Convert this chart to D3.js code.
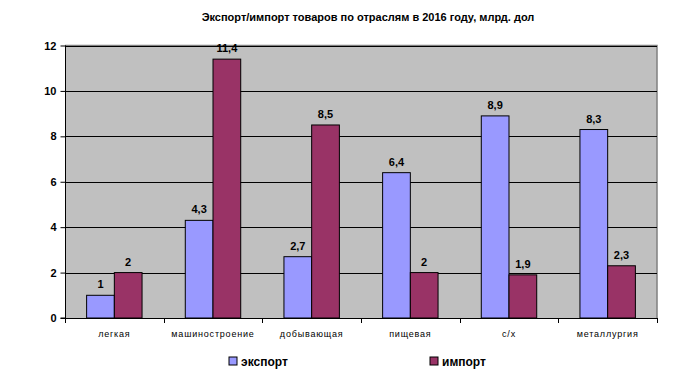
<!DOCTYPE html>
<html><head><meta charset="utf-8">
<script src="https://cdn.jsdelivr.net/npm/d3@7"></script>
<style>body{margin:0;background:#fff}svg{display:block;font-family:"Liberation Sans",Arial,sans-serif}</style>
</head><body><svg id="c" width="686" height="384"></svg>
<script>
const categories = ["легкая","машиностроение","добывающая","пищевая","с/х","металлургия"];
const exportValues = [1,4.3,2.7,6.4,8.9,8.3];
const importValues = [2,11.4,8.5,2,1.9,2.3];
const seriesNames = ["экспорт","импорт"];
const yTicks = [0,2,4,6,8,10,12];
const colors = ["#9999FF","#993366"];

const svg = d3.select("#c");
const L=65,R=657,T=45.5,B=318;
const x = d3.scaleBand().domain(categories).range([L,R]).paddingInner(0).paddingOuter(0);
const y = d3.scaleLinear().domain([0,12]).range([B,T]);
const bw = x.bandwidth()/3.56;
const x1 = d3.scaleBand().domain(seriesNames).range([0,2*bw]);

svg.append("text").attr("x",368).attr("y",21).attr("text-anchor","middle")
  .attr("font-size",11).attr("font-weight","bold").text("Экспорт/импорт товаров по отраслям в 2016 году, млрд. дол");

svg.append("rect").attr("x",L).attr("y",T).attr("width",R-L).attr("height",B-T).attr("fill","#C0C0C0");
svg.append("path").attr("d",`M${L},${T}H${R}V${B}`).attr("fill","none").attr("stroke","#808080").attr("stroke-width",1.5);

svg.append("g").selectAll("line").data(yTicks.filter(d=>d>0)).join("line")
  .attr("x1",L).attr("x2",R).attr("y1",d=>Math.round(y(d))+0.5).attr("y2",d=>Math.round(y(d))+0.5).attr("stroke","#000");

const ya = svg.append("g").attr("transform",`translate(${L+0.5},0)`)
  .call(d3.axisLeft(y).tickValues(yTicks).tickSize(5).tickPadding(4).tickFormat(d3.format("d")));
ya.select(".domain").attr("stroke","#000").attr("d",`M-5,${B}H0V${T}`);
ya.selectAll("text").attr("font-size",11).attr("font-weight","bold").attr("font-family","Liberation Sans, Arial");
ya.selectAll(".tick line").attr("stroke","#000");

const bounds = categories.map(c=>x(c)).concat([R]);
const xa = svg.append("g");
xa.append("line").attr("x1",L).attr("x2",R).attr("y1",B+0.5).attr("y2",B+0.5).attr("stroke","#000");
xa.selectAll("line.t").data(bounds).join("line").attr("class","t")
  .attr("x1",d=>Math.round(d)+0.5).attr("x2",d=>Math.round(d)+0.5).attr("y1",B).attr("y2",B+5).attr("stroke","#000");
xa.selectAll("text").data(categories).join("text")
  .attr("x",d=>x(d)+x.bandwidth()/2).attr("y",337).attr("text-anchor","middle")
  .attr("font-size",9).attr("letter-spacing","0.8px").text(d=>d);

const data = categories.map((c,i)=>({c, vals:[exportValues[i],importValues[i]]}));
const off = (x.bandwidth()-2*bw)/2;
const g = svg.append("g").selectAll("g").data(data).join("g").attr("transform",d=>`translate(${x(d.c)+off},0)`);
g.selectAll("rect").data(d=>d.vals.map((v,j)=>({v,s:seriesNames[j],j}))).join("rect")
  .attr("x",d=>x1(d.s)).attr("width",x1.bandwidth()).attr("y",d=>y(d.v)).attr("height",d=>B-y(d.v))
  .attr("fill",d=>colors[d.j]).attr("stroke","#000").attr("stroke-width",1);
g.selectAll("text").data(d=>d.vals.map((v,j)=>({v,s:seriesNames[j]}))).join("text")
  .attr("x",d=>x1(d.s)+x1.bandwidth()/2).attr("y",d=>y(d.v)-7).attr("text-anchor","middle")
  .attr("font-size",11).attr("font-weight","bold").text(d=>String(d.v).replace(".",","));

const lx=[229,430];
const lg = svg.append("g").selectAll("g").data(seriesNames).join("g").attr("transform",(d,i)=>`translate(${lx[i]},357)`);
lg.append("rect").attr("width",8).attr("height",8).attr("fill",(d,i)=>colors[i]).attr("stroke","#000");
lg.append("text").attr("x",12).attr("y",9).attr("font-size",12).attr("font-weight","bold").text(d=>d);
</script></body></html>
